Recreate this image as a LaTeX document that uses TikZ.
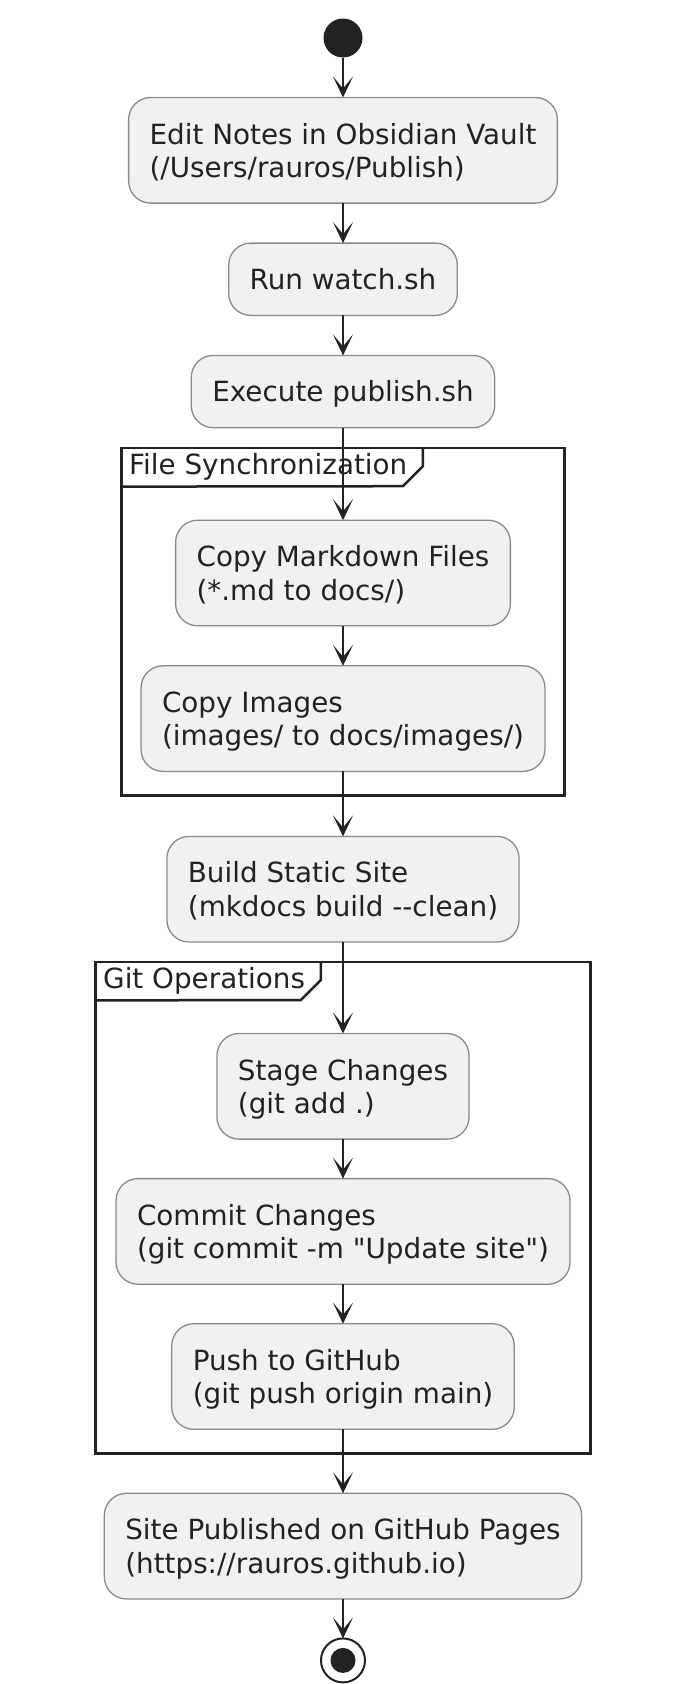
\documentclass[tikz,border=0pt]{standalone}
\usepackage{fontspec}
\setmainfont{DejaVu Sans}[Ligatures=TeXOff]
\usetikzlibrary{positioning,calc,arrows.meta}
\definecolor{ink}{HTML}{222222}
\definecolor{boxfill}{HTML}{F1F1F1}
\definecolor{boxline}{HTML}{8A8A8A}
\newcommand{\ls}{\rule[-6.3pt]{0pt}{33.3pt}}

\begin{document}
\begin{tikzpicture}[x=1pt,y=1pt,
  font=\fontsize{27.8}{33.3}\selectfont,
  act/.style={draw=boxline, line width=1.3pt, fill=boxfill, rounded corners=22pt,
    align=left, inner xsep=21pt, inner ysep=19.5pt, outer sep=0pt, text=ink},
  flow/.style={draw=ink, line width=1.6pt, -{Stealth[length=21pt,width=20pt,inset=12pt]}},
  grp/.style={draw=ink, line width=2.5pt},
  grplabel/.style={anchor=north west, inner xsep=7.5pt, inner ysep=0pt,
    minimum height=38pt, text height=20pt, text depth=6pt, text=ink},
  node distance=40pt]
\useasboundingbox (0,0) rectangle (692,-1684);

% Inicio
\node[circle, fill=ink, inner sep=0pt, outer sep=0pt, minimum size=39pt] (start) at (343,-38) {};

% Actividades
\node[act, below=40pt of start] (edit) {\ls Edit Notes in Obsidian Vault\\\ls (/Users/rauros/Publish)};
\node[act, below=of edit] (watch) {\ls Run watch.sh};
\node[act, below=of watch] (exec) {\ls Execute publish.sh};
\node[act, below=92.5pt of exec] (markdown) {\ls Copy Markdown Files\\\ls (*.md to docs/)};
\node[act, below=of markdown] (images) {\ls Copy Images\\\ls (images/ to docs/images/)};
\node[act, below=65pt of images] (build) {\ls Build Static Site\\\ls (mkdocs build --clean)};
\node[act, below=91.5pt of build] (stage) {\ls Stage Changes\\\ls (git add .)};
\node[act, below=39.5pt of stage] (commit) {\ls Commit Changes\\\ls (git commit -m "Update site")};
\node[act, below=39.5pt of commit] (push) {\ls Push to GitHub\\\ls (git push origin main)};
\node[act, below=64pt of push] (site) {\ls Site Published on GitHub Pages\\\ls (https://rauros.github.io)};

% Fin
\node[circle, draw=ink, line width=2pt, fill=white, inner sep=0pt, outer sep=0pt, minimum size=44pt, below=39.5pt of site] (stop) {};
\fill[ink] (stop) circle (12.5);

% Marco: File Synchronization
\coordinate (fs-nw) at ($(images.west |- exec.south)+(-19.5,-20.5)$);
\coordinate (fs-se) at ($(images.east |- images.south)+(19.5,-24)$);
\draw[grp] (fs-nw) rectangle (fs-se);
\node[grplabel] (fs-lbl) at (fs-nw) {File Synchronization};
\draw[grp] ($(fs-lbl.north east)+(8,0)$) -- ++(0,-18) -- ++(-20,-20) -- (fs-lbl.south west);

% Marco: Git Operations
\coordinate (git-nw) at ($(commit.west |- build.south)+(-20.5,-20)$);
\coordinate (git-se) at ($(commit.east |- push.south)+(20.5,-24)$);
\draw[grp] (git-nw) rectangle (git-se);
\node[grplabel] (git-lbl) at (git-nw) {Git Operations};
\draw[grp] ($(git-lbl.north east)+(8,0)$) -- ++(0,-18) -- ++(-20,-20) -- (git-lbl.south west);

% Flechas
\draw[flow] (start) -- (edit);
\draw[flow] (edit) -- (watch);
\draw[flow] (watch) -- (exec);
\draw[flow] (exec) -- (markdown);
\draw[flow] (markdown) -- (images);
\draw[flow] (images) -- (build);
\draw[flow] (build) -- (stage);
\draw[flow] (stage) -- (commit);
\draw[flow] (commit) -- (push);
\draw[flow] (push) -- (site);
\draw[flow] (site) -- (stop);
\end{tikzpicture}
\end{document}
